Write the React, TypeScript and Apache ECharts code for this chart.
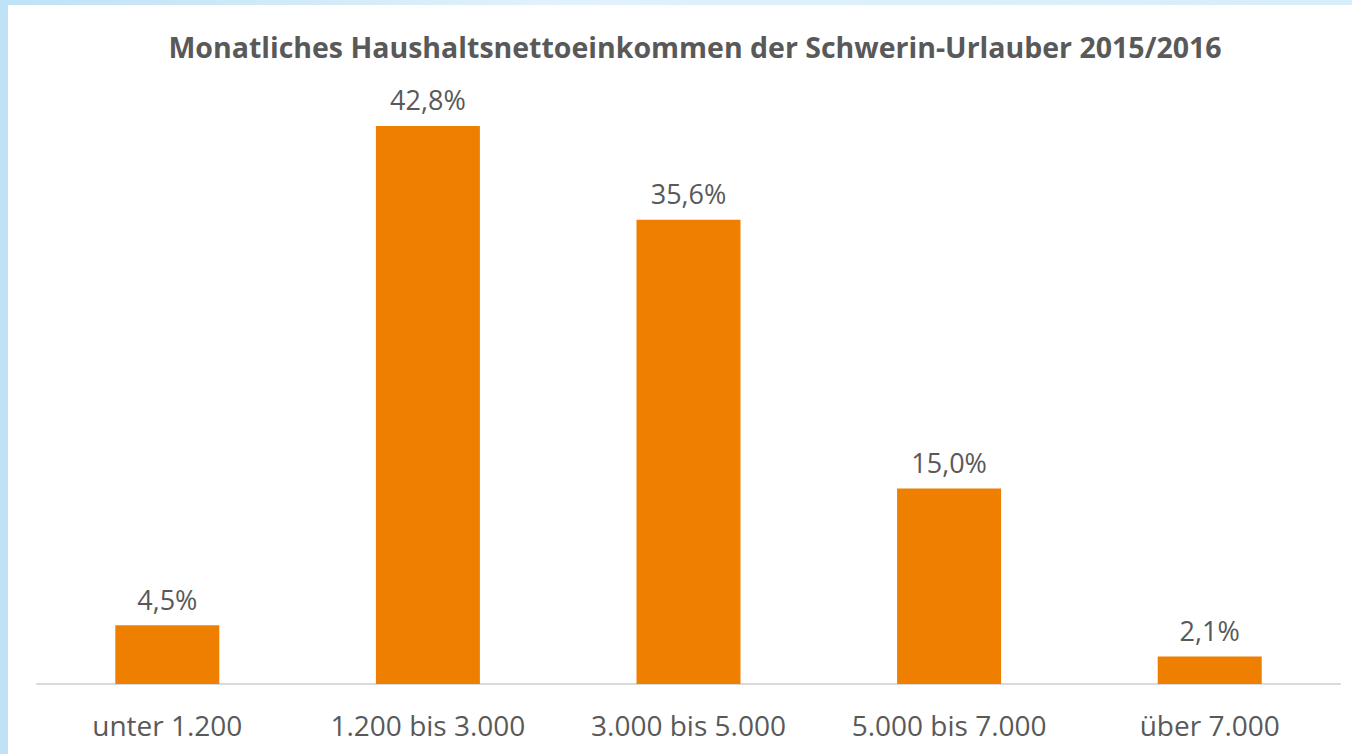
import React, { useEffect, useRef } from "react";
import * as echarts from "echarts";

const categories = ["unter 1.200", "1.200 bis 3.000", "3.000 bis 5.000", "5.000 bis 7.000", "über 7.000"];
const values = [4.5, 42.8, 35.6, 15.0, 2.1];
const titleText = "Monatliches Haushaltsnettoeinkommen der Schwerin-Urlauber 2015/2016";

export default function App() {
  const ref = useRef<HTMLDivElement>(null);
  useEffect(() => {
    if (!ref.current) return;
    const chart = echarts.init(ref.current, null, { renderer: "svg" });
    chart.setOption({
      animation: false,
      backgroundColor: "#ffffff",
      title: {
        text: titleText,
        left: 682,
        textAlign: "center",
        top: 22,
        textStyle: {
          fontFamily: "Open Sans",
          fontWeight: "bold",
          fontSize: 28.5,
          color: "#595959",
        },
      },
      grid: { left: 29, right: 12, top: 92.3, bottom: 70, containLabel: false },
      xAxis: {
        type: "category",
        data: categories,
        axisLine: { lineStyle: { color: "#d9d9d9", width: 2 } },
        axisTick: { show: false },
        axisLabel: {
          margin: 27,
          fontFamily: "Open Sans",
          fontSize: 28,
          color: "#595959",
        },
      },
      yAxis: {
        type: "value",
        min: 0,
        max: 45,
        show: false,
        splitLine: { show: false },
      },
      series: [
        {
          type: "bar",
          data: values,
          barWidth: 104,
          itemStyle: { color: "#ee7f00" },
          label: {
            show: true,
            position: "top",
            distance: 12,
            fontFamily: "Open Sans",
            fontSize: 27,
            lineHeight: 28,
            color: "#595959",
            formatter: (p: any) => p.value.toFixed(1).replace(".", ",") + "%",
          },
        },
      ],
    });
    return () => chart.dispose();
  }, []);
  return (
    <div
      style={{
        position: "fixed",
        left: 0,
        top: 0,
        width: 1352,
        height: 754,
        background: "linear-gradient(to right, #bfe2f6, #e0f1fa 40%, #d6eefa)",
      }}
    >
      <div ref={ref} style={{ position: "absolute", left: 8, top: 5, width: 1344, height: 749 }} />
    </div>
  );
}
